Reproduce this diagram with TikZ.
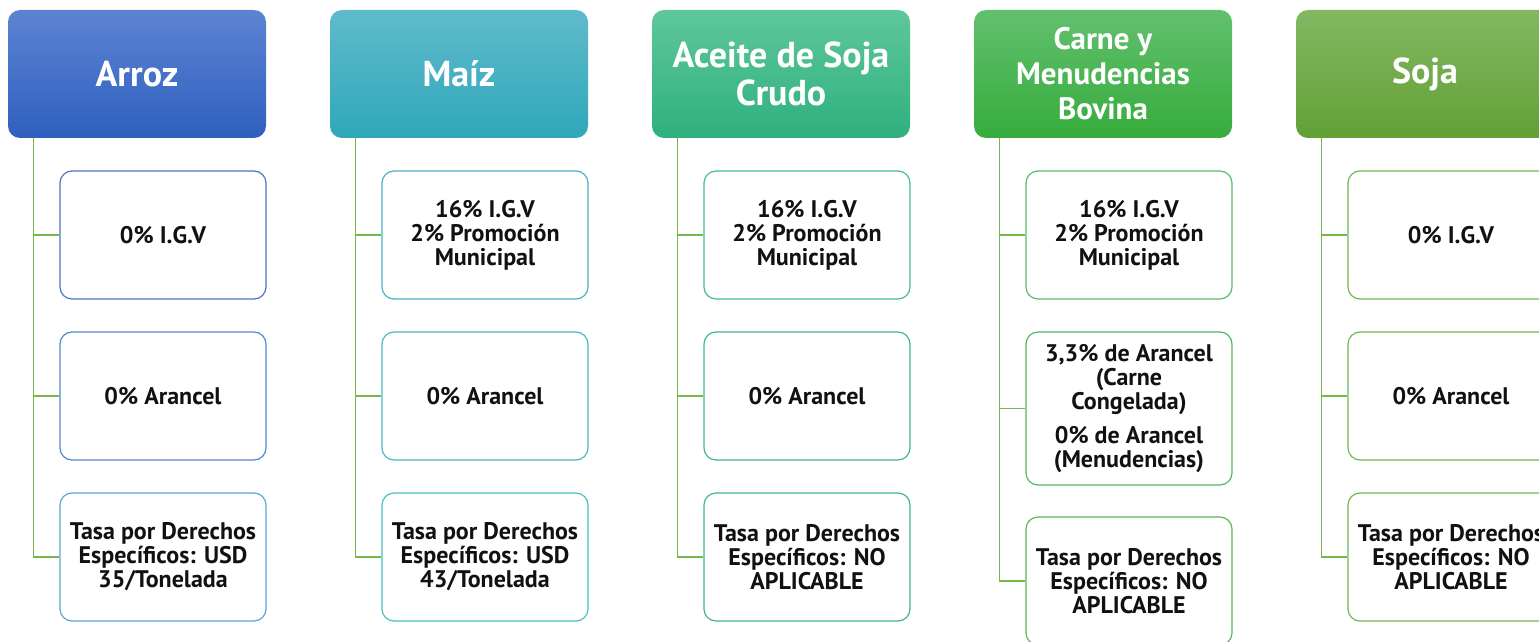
\documentclass[tikz,border=0pt]{standalone}
\usepackage{fontspec}
\setmainfont{PT Sans}
\usetikzlibrary{calc}
\definecolor{arrT}{HTML}{5C84D3}
\definecolor{arrB}{HTML}{2F5FBE}
\definecolor{maiT}{HTML}{5FBACB}
\definecolor{maiB}{HTML}{2FA8BA}
\definecolor{aceT}{HTML}{5EC79C}
\definecolor{aceB}{HTML}{2FB07E}
\definecolor{carT}{HTML}{62C06E}
\definecolor{carB}{HTML}{36AC3C}
\definecolor{sojT}{HTML}{82B862}
\definecolor{sojB}{HTML}{62A035}
\definecolor{arr1}{HTML}{4A72C8}
\definecolor{arr2}{HTML}{5088CC}
\definecolor{arr3}{HTML}{5AA5D3}
\definecolor{mai1}{HTML}{4AAFC8}
\definecolor{mai2}{HTML}{48B6C6}
\definecolor{mai3}{HTML}{48C0C0}
\definecolor{ace1}{HTML}{44BA9E}
\definecolor{ace2}{HTML}{40B890}
\definecolor{ace3}{HTML}{40B882}
\definecolor{car1}{HTML}{58BC6C}
\definecolor{car2}{HTML}{56B85E}
\definecolor{car3}{HTML}{5AB855}
\definecolor{soj1}{HTML}{6CB856}
\definecolor{lineg}{HTML}{77B84A}
\definecolor{txt}{HTML}{111111}
\begin{document}
\begin{tikzpicture}[x=0.5pt,y=-0.5pt,
  hdr/.style={rounded corners=6pt, minimum width=129pt, minimum height=64pt,
    inner sep=0pt, text=white, align=center,
    font=\bfseries\fontsize{18}{19}\selectfont},
  hdrsm/.style={font=\bfseries\fontsize{15.5}{17.5}\selectfont},
  item/.style={line width=0.6pt, rounded corners=6pt, fill=white,
    minimum width=103pt, minimum height=64pt, inner sep=0pt, align=center,
    text=txt, font=\bfseries\fontsize{12}{12}\selectfont},
  conn/.style={draw=lineg, line width=0.75pt}]
\useasboundingbox (0,0) rectangle (1539,642);
\clip (0,0) rectangle (1539,642);

% headers
\node[hdr, top color=arrT, bottom color=arrB] (h1) at (137,74) {Arroz};
\node[hdr, top color=maiT, bottom color=maiB] (h2) at (459,74) {Maíz};
\node[hdr, top color=aceT, bottom color=aceB] (h3) at (781,74) {Aceite de Soja\\Crudo};
\node[hdr, hdrsm, top color=carT, bottom color=carB] (h4) at (1103,74) {Carne y\\Menudencias\\Bovina};
\node[hdr, top color=sojT, bottom color=sojB] (h5) at (1425,74) {Soja};

% column 1
\node[item, draw=arr1] (b11) at (163,235) {0\% I.G.V};
\node[item, draw=arr2] (b12) at (163,396) {0\% Arancel};
\node[item, draw=arr3] (b13) at (163,557) {Tasa por Derechos\\Específicos: USD\\35/Tonelada};
% column 2
\node[item, draw=mai1] (b21) at (485,235) {16\% I.G.V\\2\% Promoción\\Municipal};
\node[item, draw=mai2] (b22) at (485,396) {0\% Arancel};
\node[item, draw=mai3] (b23) at (485,557) {Tasa por Derechos\\Específicos: USD\\43/Tonelada};
% column 3
\node[item, draw=ace1] (b31) at (807,235) {16\% I.G.V\\2\% Promoción\\Municipal};
\node[item, draw=ace2] (b32) at (807,396) {0\% Arancel};
\node[item, draw=ace3] (b33) at (807,557) {Tasa por Derechos\\Específicos: NO\\APLICABLE};
% column 4
\node[item, draw=car1] (b41) at (1129,235) {16\% I.G.V\\2\% Promoción\\Municipal};
\node[item, draw=car2, minimum height=76.5pt] (b42) at (1129,408.5) {3,3\% de Arancel\\(Carne\\Congelada)\\[5pt]0\% de Arancel\\(Menudencias)};
\node[item, draw=car3] (b43) at (1129,581) {Tasa por Derechos\\Específicos: NO\\APLICABLE};
% column 5
\node[item, draw=soj1] (b51) at (1451,235) {0\% I.G.V};
\node[item, draw=soj1] (b52) at (1451,396) {0\% Arancel};
\node[item, draw=soj1] (b53) at (1451,557) {Tasa por Derechos\\Específicos: NO\\APLICABLE};

% connectors
\foreach \k in {1,...,5}{
  \coordinate (t\k) at ($(h\k.south west)+(13pt,0)$);
  \draw[conn] (t\k) |- (b\k3.west);
  \draw[conn] (t\k |- b\k1.west) -- (b\k1.west);
  \draw[conn] (t\k |- b\k2.west) -- (b\k2.west);
}
\end{tikzpicture}
\end{document}
